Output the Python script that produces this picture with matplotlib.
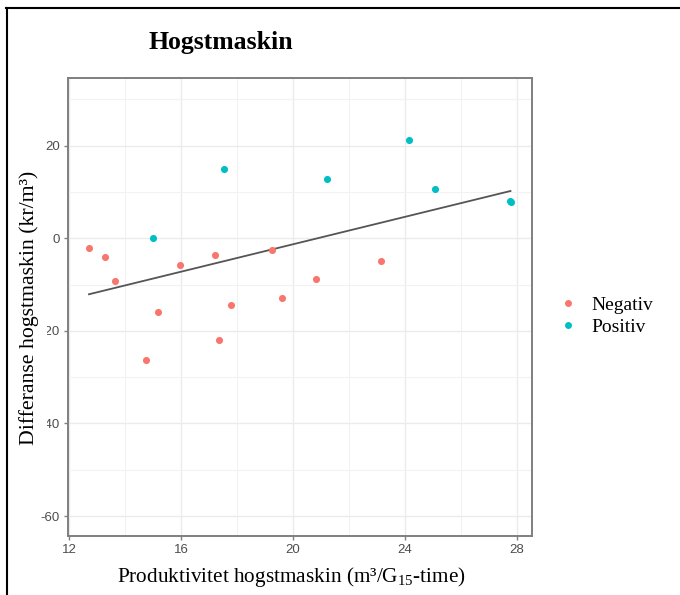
#!/usr/bin/env python3
"""Hogstmaskin: differanse vs produktivitet, ggplot-like scatter with fit line."""

import matplotlib

matplotlib.use("Agg")
import matplotlib.pyplot as plt
from matplotlib.lines import Line2D
from matplotlib.patches import Rectangle

# data
neg_x = [12.71, 13.30, 13.63, 14.74, 15.18, 15.98, 17.21, 17.35, 17.78,
         19.26, 19.62, 20.82, 23.14]
neg_y = [-2.2, -4.1, -9.2, -26.4, -16.0, -5.8, -3.7, -22.0, -14.5,
         -2.6, -13.0, -8.9, -5.0]
pos_x = [15.00, 17.54, 21.21, 24.17, 25.08, 27.75, 27.80]
pos_y = [0.0, 15.0, 12.7, 21.2, 10.6, 8.0, 7.8]
fit_x = [12.71, 27.78]
fit_y = [-12.1, 10.2]
x_ticks = [12, 16, 20, 24, 28]
y_ticks = [-60, -40, -20, 0, 20]
groups = ["Negativ", "Positiv"]
colors = ["#F8766D", "#00BFC4"]

W, H = 680, 595
SERIF = ["Liberation Serif", "DejaVu Serif"]
SANS = ["Liberation Sans", "DejaVu Sans"]

plt.rcParams.update({
    "axes.unicode_minus": False,
    "mathtext.fontset": "custom",
    "mathtext.rm": "Liberation Serif",
    "mathtext.it": "Liberation Serif:italic",
    "mathtext.bf": "Liberation Serif:bold",
})


def fx(px):
    return px / W


def fy(py):
    return 1 - py / H


fig = plt.figure(figsize=(W / 100, H / 100), dpi=100)
fig.patch.set_facecolor("white")

ax = fig.add_axes([fx(68), fy(536), fx(532) - fx(68), fy(78) - fy(536)])
ax.set_xlim(11.96, 28.55)
ax.set_ylim(-64.3, 34.6)

ax.set_xticks(x_ticks)
ax.set_yticks(y_ticks)
ax.set_xticks([14, 18, 22, 26], minor=True)
ax.set_yticks([-50, -30, -10, 10, 30], minor=True)
ax.grid(which="major", color="#ebebeb", linewidth=1.0)
ax.grid(which="minor", color="#f2f2f2", linewidth=0.8)
ax.set_axisbelow(True)
for side in ax.spines.values():
    side.set_color("#7f7f7f")
    side.set_linewidth(1.4)
ax.tick_params(which="major", length=3, width=1, color="#7f7f7f",
               labelsize=9.5, labelcolor="#4d4d4d", pad=3)
ax.tick_params(which="minor", length=0)
for lab in ax.get_xticklabels() + ax.get_yticklabels():
    lab.set_family(SANS)

ax.plot(fit_x, fit_y, color="#555555", linewidth=1.3, zorder=2)
ax.scatter(neg_x, neg_y, s=26, color=colors[0], linewidths=0, zorder=3)
ax.scatter(pos_x, pos_y, s=26, color=colors[1], linewidths=0, zorder=3)

handles = [Line2D([], [], marker="o", linestyle="none", markersize=5,
                  markerfacecolor=c, markeredgewidth=0) for c in colors]
fig.legend(handles, groups, loc="center left",
           bbox_to_anchor=(fx(549), fy(316)), frameon=False,
           prop={"family": SERIF, "size": 14}, handletextpad=0.6,
           labelspacing=0.25, handlelength=1.2, borderaxespad=0)

# white box over the tick labels, as in the reference
fig.add_artist(Rectangle((fx(12), fy(452)), fx(47) - fx(12), fy(165) - fy(452),
                         transform=fig.transFigure, facecolor="white",
                         edgecolor="none", zorder=5))
fig.text(fx(29), fy(308), "Differanse hogstmaskin (kr/m\u00b3)",
         rotation=90, ha="center", va="center", family=SERIF, fontsize=15.7,
         zorder=6)
fig.text(fx(291), fy(577),
         "Produktivitet hogstmaskin (m\u00b3/G$_{\\mathrm{15}}$-time)",
         ha="center", va="center", family=SERIF, fontsize=15.3, zorder=6)
fig.text(fx(221), fy(43), "Hogstmaskin", ha="center", va="center",
         family=SERIF, fontsize=18.5, fontweight="bold")

# outer frame (top and left only)
fig.add_artist(Line2D([fx(6), 1], [fy(7.5), fy(7.5)], color="black",
                      linewidth=1.5, transform=fig.transFigure))
fig.add_artist(Line2D([fx(6.5), fx(6.5)], [fy(7.5), 0], color="black",
                      linewidth=1.5, transform=fig.transFigure))

fig.savefig("out.png", dpi=100, facecolor="white")
plt.close(fig)
